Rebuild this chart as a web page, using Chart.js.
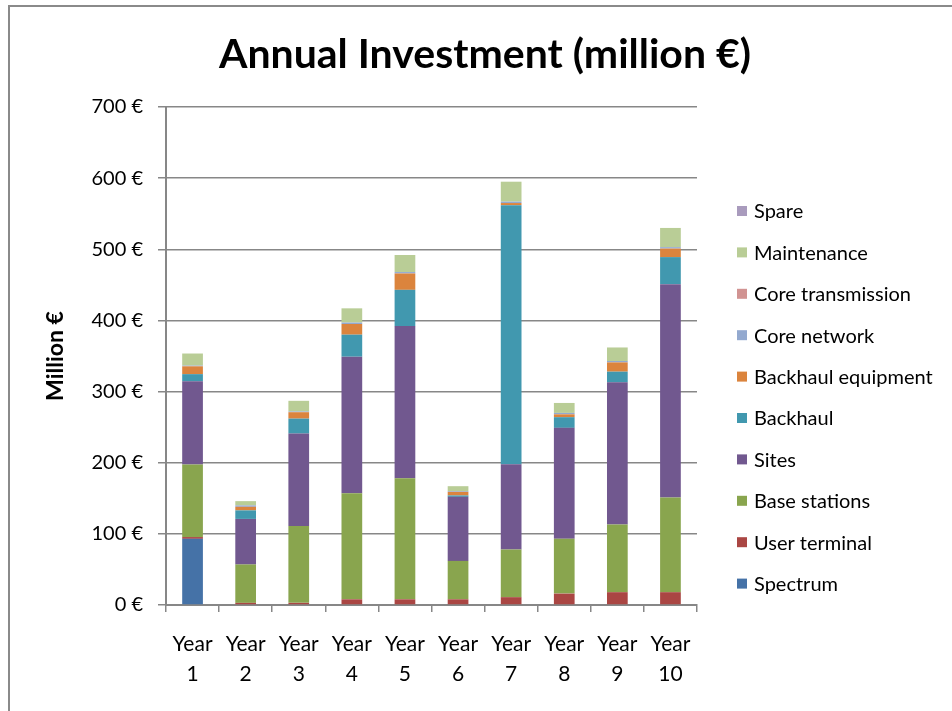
<!DOCTYPE html>
<html>
<head>
<meta charset="utf-8">
<script src="https://cdn.jsdelivr.net/npm/chart.js@4/dist/chart.umd.min.js"></script>
<style>
    html, body { margin: 0; padding: 0; background: #fff; overflow: hidden; }
    #wrap { position: relative; width: 952px; height: 711px; }
    #frame {
        position: absolute; left: 8px; top: 5px; width: 1000px; height: 800px;
        border-left: 2px solid #8a8a8a; border-top: 2px solid #8a8a8a;
    }
    canvas { position: absolute; left: 0; top: 0; }
</style>
</head>
<body>
<div id="wrap">
    <div id="frame"></div>
    <canvas id="chart-invest" width="952" height="711"></canvas>
</div>
<script>
(function () {
    'use strict';

    var years = [['Year', '1'], ['Year', '2'], ['Year', '3'], ['Year', '4'], ['Year', '5'],
                 ['Year', '6'], ['Year', '7'], ['Year', '8'], ['Year', '9'], ['Year', '10']];

    // million € per year, stacked bottom to top
    var spectrum         = [93, 0, 0, 0, 0, 0, 0, 0, 0, 0];
    var userTerminal     = [2.5, 3, 3, 8, 8, 8, 11, 16, 18, 18];
    var baseStations     = [102, 54, 108, 149, 170, 54, 67, 77, 95, 133];
    var sites            = [117, 64, 130, 192, 214, 90, 120, 156, 200, 300];
    var backhaul         = [10, 12, 21, 31, 51, 2, 364, 15, 15, 38];
    var backhaulEquip    = [11, 5, 9, 15, 23, 5, 3, 4, 13, 12];
    var coreNetwork      = [1, 2, 1, 2, 2, 1, 2, 2, 2, 2];
    var coreTransmission = [0, 0, 0, 0, 0, 0, 0, 0, 0, 0];
    var maintenance      = [17, 6, 15, 20, 24, 7, 28, 14, 19, 27];
    var spare            = [0, 0, 0, 0, 0, 0, 0, 0, 0, 0];

    var yTicks = [0, 100, 200, 300, 400, 500, 600, 700];

    var FONT = 'Lato, "Open Sans", sans-serif';
    var AXIS_GREY = '#878787';

    function series(label, data, color) {
        return {
            label: label,
            data: data,
            backgroundColor: color,
            borderWidth: 0,
            barPercentage: 0.39,
            categoryPercentage: 1.0,
        };
    }

    // Title and right-hand legend drawn straight onto the canvas
    var decorations = {
        id: 'decorations',
        afterDraw: function (chart) {
            var ctx = chart.ctx;
            ctx.save();
            ctx.fillStyle = '#000';
            ctx.font = 'bold 41px ' + FONT;
            ctx.textAlign = 'center';
            ctx.textBaseline = 'middle';
            ctx.fillText('Annual Investment (million €)', 485, 55);

            var sets = chart.data.datasets;
            ctx.font = '20px ' + FONT;
            ctx.textAlign = 'left';
            for (var i = 0; i < sets.length; i++) {
                var ds = sets[sets.length - 1 - i];
                var y = 211 + i * 41.4;
                ctx.fillStyle = ds.backgroundColor;
                ctx.fillRect(737, y - 5, 10, 10);
                ctx.fillStyle = '#000';
                ctx.fillText(ds.label, 754, y + 1);
            }
            ctx.restore();
        },
    };

    new Chart(document.getElementById('chart-invest'), {
        type: 'bar',
        data: {
            labels: years,
            datasets: [
                series('Spectrum', spectrum, '#4572A7'),
                series('User terminal', userTerminal, '#AA4643'),
                series('Base stations', baseStations, '#89A54E'),
                series('Sites', sites, '#71588F'),
                series('Backhaul', backhaul, '#4198AF'),
                series('Backhaul equipment', backhaulEquip, '#DB843D'),
                series('Core network', coreNetwork, '#93A9CF'),
                series('Core transmission', coreTransmission, '#D19392'),
                series('Maintenance', maintenance, '#B9CD96'),
                series('Spare', spare, '#A99BBD'),
            ],
        },
        options: {
            responsive: false,
            animation: false,
            layout: { padding: { top: 107, right: 255, bottom: 0, left: 0 } },
            plugins: {
                legend: { display: false },
                title: { display: false },
                tooltip: { enabled: false },
            },
            scales: {
                x: {
                    stacked: true,
                    afterFit: function (scale) { scale.height = 106; },
                    grid: {
                        offset: true,
                        drawOnChartArea: false,
                        drawTicks: true,
                        tickLength: 7,
                        color: AXIS_GREY,
                        lineWidth: 1.5,
                    },
                    border: { color: AXIS_GREY, width: 2 },
                    ticks: {
                        color: '#000',
                        padding: 18,
                        maxRotation: 0,
                        font: { family: FONT, size: 21, lineHeight: 1.4 },
                    },
                },
                y: {
                    stacked: true,
                    min: 0,
                    max: 700,
                    afterFit: function (scale) { scale.width = 166; },
                    afterBuildTicks: function (scale) {
                        scale.ticks = yTicks.map(function (v) { return { value: v }; });
                    },
                    grid: {
                        color: AXIS_GREY,
                        lineWidth: 1.5,
                        tickLength: 8,
                    },
                    border: { color: AXIS_GREY, width: 2 },
                    ticks: {
                        color: '#000',
                        padding: 15,
                        font: { family: FONT, size: 20 },
                        callback: function (v) { return v + ' €'; },
                    },
                    title: {
                        display: true,
                        text: 'Million €',
                        color: '#000',
                        padding: { top: 42, bottom: 0 },
                        font: { family: FONT, size: 23, weight: 'bold' },
                    },
                },
            },
        },
        plugins: [decorations],
    });
})();
</script>
</body>
</html>
